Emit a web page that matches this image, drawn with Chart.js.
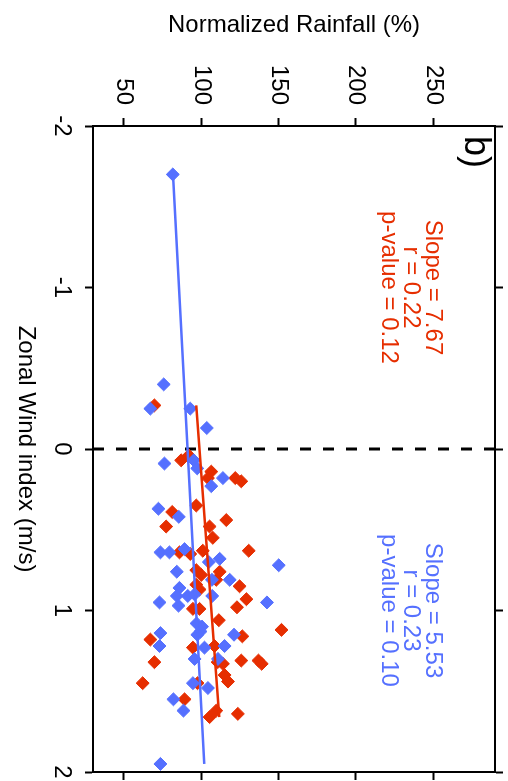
<!DOCTYPE html>
<html>
<head>
<meta charset="utf-8">
<script src="https://cdn.jsdelivr.net/npm/chart.js@4"></script>
<style>
  html, body { margin: 0; padding: 0; background: #fff; overflow: hidden; }
  /* the chart is drawn upright and then turned a quarter clockwise */
  #wrap { position: absolute; left: 0; top: 0; width: 781px; height: 508px;
          transform-origin: 0 0; transform: translateX(508px) rotate(90deg); }
</style>
</head>
<body>
<div id="wrap"><canvas id="chart" width="781" height="508"></canvas></div>
<script>
// Zonal wind index (m/s) and normalized rainfall (%)
const redWind = [-0.27, 0.04, 0.07, 0.14, 0.18, 0.18, 0.20, 0.35, 0.39, 0.44, 0.48, 0.48,
  0.55, 0.64, 0.65, 0.63, 0.63, 0.75, 0.78, 0.76, 0.81, 0.85, 0.84, 0.87, 0.93, 0.98,
  0.99, 0.99, 1.06, 1.12, 1.18, 1.16, 1.23, 1.22, 1.32, 1.32, 1.31, 1.33, 1.31, 1.33,
  1.45, 1.45, 1.40, 1.44, 1.55, 1.66, 1.62, 1.64];
const redRain = [69.7, 92.0, 87.0, 106.5, 104.3, 122.0, 125.9, 96.8, 81.2, 116.2, 77.3, 105.4,
  107.5, 85.9, 92.9, 101.0, 130.7, 96.8, 100.0, 111.9, 109.7, 124.8, 96.8, 98.9, 129.2, 123.1,
  94.6, 98.9, 111.4, 151.9, 67.1, 126.6, 94.6, 108.6, 69.7, 110.6, 125.9, 139.1, 137.0, 114.0,
  62.1, 97.6, 115.1, 117.3, 89.2, 105.4, 109.7, 123.7];

const blueWind = [-1.70, -0.40, -0.25, -0.25, -0.13, 0.09, 0.07, 0.12, 0.18, 0.23, 0.37, 0.42,
  0.64, 0.64, 0.62, 0.70, 0.68, 0.72, 0.76, 0.81, 0.81, 0.86, 0.91, 0.91, 0.90, 0.91,
  0.95, 0.97, 0.95, 1.08, 1.10, 1.13, 1.15, 1.14, 1.22, 1.15, 1.23, 1.22, 1.30, 1.30,
  1.45, 1.48, 1.55, 1.62, 1.95];
const blueRain = [81.6, 75.7, 67.1, 92.9, 103.6, 76.2, 95.2, 97.4, 114.0, 106.5, 72.3, 85.5,
  73.6, 79.4, 89.2, 104.9, 111.9, 150.1, 84.2, 106.9, 118.4, 85.9, 84.2, 91.3, 95.7, 107.1,
  73.0, 85.3, 142.5, 97.0, 100.5, 99.5, 97.5, 73.6, 73.0, 121.2, 102.1, 115.1, 95.7, 110.8,
  94.6, 104.3, 82.0, 88.5, 73.6];

// regression lines (end points)
const redFitWind = [-0.27, 1.66];
const redFitRain = [96.8, 111.6];
const blueFitWind = [-1.70, 1.95];
const blueFitRain = [81.8, 102.0];

// dashed line at zero wind
const zeroWind = [0, 0];
const zeroRain = [30, 290];

const windTicks = [-2, -1, 0, 1, 2];
const rainTicks = [50, 100, 150, 200, 250];

const redStats = ['Slope = 7.67', 'r = 0.22', 'p-value = 0.12'];
const blueStats = ['Slope = 5.53', 'r = 0.23', 'p-value = 0.10'];

const RED = '#E62E00';
const BLUE = '#5570FF';
const FAMILY = '"Liberation Sans", Arial, Helvetica, sans-serif';
const FONT = { family: FAMILY, size: 24 };

const toPoints = (xs, ys) => xs.map((x, i) => ({ x: x, y: ys[i] }));

const statsText = {
  id: 'statsText',
  afterDraw(chart) {
    const { ctx, chartArea, scales } = chart;
    ctx.save();
    ctx.font = '24px ' + FAMILY;
    ctx.textAlign = 'center';
    ctx.textBaseline = 'middle';
    [[redStats, RED, -1], [blueStats, BLUE, 1]].forEach(([lines, color, at]) => {
      ctx.fillStyle = color;
      const cx = scales.x.getPixelForValue(at);
      lines.forEach((t, i) => ctx.fillText(t, cx, chartArea.top + 62 + i * 22));
    });
    // panel letter
    ctx.fillStyle = '#000';
    ctx.font = '36px ' + FAMILY;
    ctx.textAlign = 'left';
    ctx.textBaseline = 'top';
    ctx.fillText('b)', chartArea.left + 10, chartArea.top + 2);
    ctx.restore();
  }
};

const gridOpts = { drawOnChartArea: false, drawTicks: true, tickLength: 8, tickWidth: 2, tickColor: '#000' };
const borderOpts = { display: true, color: '#000', width: 2 };

// fixed axis sizes, and no extra room for overhanging tick labels
const fixSize = (w, h) => s => {
  if (w !== null) s.width = w;
  if (h !== null) s.height = h;
  s.paddingLeft = 0; s.paddingRight = 0; s.paddingTop = 0; s.paddingBottom = 0;
};

new Chart(document.getElementById('chart'), {
  type: 'scatter',
  data: {
    datasets: [
      { label: 'Red fit', data: toPoints(redFitWind, redFitRain), showLine: true,
        borderColor: RED, borderWidth: 2.5, pointRadius: 0 },
      { label: 'Blue fit', data: toPoints(blueFitWind, blueFitRain), showLine: true,
        borderColor: BLUE, borderWidth: 2.5, pointRadius: 0 },
      { label: 'Blue', data: toPoints(blueWind, blueRain), pointStyle: 'rectRot',
        pointRadius: 6.5, backgroundColor: BLUE, borderColor: BLUE, borderWidth: 1 },
      { label: 'Red', data: toPoints(redWind, redRain), pointStyle: 'rectRot',
        pointRadius: 6.5, backgroundColor: RED, borderColor: RED, borderWidth: 1 },
      { label: 'Zero', data: toPoints(zeroWind, zeroRain), showLine: true,
        borderColor: '#000', borderWidth: 3, borderDash: [11, 12], pointRadius: 0 }
    ]
  },
  options: {
    responsive: false,
    animation: false,
    devicePixelRatio: 1,
    layout: { padding: { top: 5, right: 1, left: 0, bottom: 0 } },
    plugins: { legend: { display: false }, tooltip: { enabled: false } },
    scales: {
      x: {
        type: 'linear', position: 'bottom', min: -2, max: 2,
        afterBuildTicks: s => { s.ticks = windTicks.map(v => ({ value: v })); },
        afterFit: fixSize(null, 93),
        grid: gridOpts, border: borderOpts,
        ticks: { color: '#000', font: FONT, padding: 9, maxRotation: 0, callback: v => String(v) },
        title: { display: true, text: 'Zonal Wind index (m/s)', color: '#000', font: FONT,
                 padding: { top: 0, bottom: 11 } }
      },
      y: {
        type: 'linear', position: 'left', min: 30, max: 290,
        afterBuildTicks: s => { s.ticks = rainTicks.map(v => ({ value: v })); },
        afterFit: fixSize(126, null),
        grid: gridOpts, border: borderOpts,
        ticks: { color: '#000', font: FONT, padding: 13 },
        title: { display: true, text: 'Normalized Rainfall (%)', color: '#000', font: FONT,
                 padding: { top: 11, bottom: 0 } }
      },
      x2: {
        type: 'linear', position: 'top', min: -2, max: 2,
        afterBuildTicks: s => { s.ticks = windTicks.map(v => ({ value: v })); },
        afterFit: fixSize(null, 8),
        grid: gridOpts, border: borderOpts,
        ticks: { display: false }
      },
      y2: {
        type: 'linear', position: 'right', min: 30, max: 290,
        afterBuildTicks: s => { s.ticks = rainTicks.map(v => ({ value: v })); },
        afterFit: fixSize(8, null),
        grid: gridOpts, border: borderOpts,
        ticks: { display: false }
      }
    }
  },
  plugins: [statsText]
});
</script>
</body>
</html>
